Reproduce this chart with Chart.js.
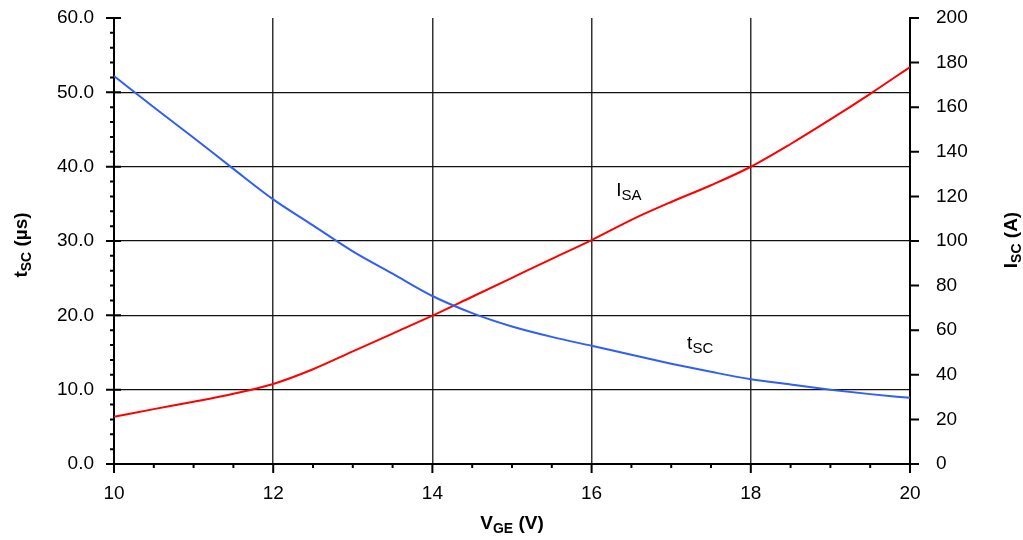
<!DOCTYPE html>
<html>
<head>
<meta charset="utf-8">
<script src="https://cdn.jsdelivr.net/npm/chart.js@4.4.0/dist/chart.umd.min.js"></script>
<style>
  html, body { margin: 0; padding: 0; background: #fff; }
  #wrap { width: 1023px; height: 540px; }
</style>
</head>
<body>
<div id="wrap"><canvas id="chart"></canvas></div>
<script>
// gate-emitter voltage (V)
const vge = [10, 10.5, 11, 11.5, 12, 12.5, 13, 13.5, 14, 14.5, 15, 15.5, 16, 16.5, 17, 17.5, 18, 18.5, 19, 19.5, 20];
// short circuit withstand time (us), left axis
const tsc = [52.2, 48.0, 43.9, 39.7, 35.6, 32.1, 28.6, 25.6, 22.6, 20.3, 18.5, 17.1, 15.9, 14.7, 13.5, 12.4, 11.4, 10.7, 10.0, 9.4, 8.9];
// short circuit current (A), right axis
const isa = [21.2, 24.6, 27.9, 31.5, 35.9, 42.5, 50.5, 58.5, 66.5, 75.0, 83.5, 92.0, 100.4, 109.5, 117.5, 125.0, 133.3, 143.5, 154.5, 166.0, 178.0];

const FONT = '"Liberation Sans", Arial, sans-serif';
const tickFont = { family: FONT, size: 19 };

// draws text made of [string, font, dy] pieces (for subscripts)
function drawParts(ctx, x, y, parts, center) {
  let w = 0;
  parts.forEach(p => { ctx.font = p[1]; w += ctx.measureText(p[0]).width; });
  let cx = center ? x - w / 2 : x;
  parts.forEach(p => {
    ctx.font = p[1];
    ctx.fillText(p[0], cx, y + p[2]);
    cx += ctx.measureText(p[0]).width;
  });
}

// keep the plot box fixed: no extra label padding at top/bottom of the y axes
function fixY(width) {
  return s => {
    s.width = width;
    s.paddingTop = 0;
    s.paddingBottom = 0;
  };
}

const decor = {
  id: 'decor',
  afterDraw(chart) {
    const { ctx, chartArea: a } = chart;
    const { x, y, y1 } = chart.scales;
    ctx.save();
    ctx.strokeStyle = '#000';
    ctx.lineWidth = 2;
    ctx.beginPath();
    // bottom ticks, minor every 0.5
    for (let i = 0; i <= 20; i++) {
      const px = x.getPixelForValue(10 + i * 0.5);
      ctx.moveTo(px, a.bottom);
      ctx.lineTo(px, a.bottom + (i % 4 === 0 ? 9 : 4));
    }
    // left ticks, minor every 2
    for (let i = 0; i <= 30; i++) {
      const py = y.getPixelForValue(i * 2);
      const major = i % 5 === 0;
      ctx.moveTo(a.left - (major ? 8 : 4), py);
      ctx.lineTo(a.left + (major ? 7 : 0), py);
    }
    // right ticks
    for (let i = 0; i <= 10; i++) {
      const py = y1.getPixelForValue(i * 20);
      ctx.moveTo(a.right, py);
      ctx.lineTo(a.right + 9, py);
    }
    ctx.stroke();

    ctx.fillStyle = '#000';
    ctx.textAlign = 'left';
    ctx.textBaseline = 'alphabetic';
    const B = 'bold 19px ' + FONT, Bs = 'bold 14px ' + FONT;
    const R = '19px ' + FONT, Rs = '15px ' + FONT;

    // x title
    drawParts(ctx, (a.left + a.right) / 2, 529, [['V', B, 0], ['GE', Bs, 4], [' (V)', B, 0]], true);

    // left title
    ctx.save();
    ctx.translate(27, 245);
    ctx.rotate(-Math.PI / 2);
    drawParts(ctx, 0, 0, [['t', B, 0], ['SC', Bs, 4], [' (µs)', B, 0]], true);
    ctx.restore();

    // right title
    ctx.save();
    ctx.translate(1017, 240);
    ctx.rotate(-Math.PI / 2);
    drawParts(ctx, 0, 0, [['I', B, 0], ['SC', Bs, 4], [' (A)', B, 0]], true);
    ctx.restore();

    // curve labels
    drawParts(ctx, x.getPixelForValue(17.2), y.getPixelForValue(15.45), [['t', R, 0], ['SC', Rs, 4]], false);
    drawParts(ctx, x.getPixelForValue(16.31), y1.getPixelForValue(120.2), [['I', R, 0], ['SA', Rs, 4]], false);
    ctx.restore();
  }
};

new Chart(document.getElementById('chart'), {
  type: 'line',
  data: {
    datasets: [
      {
        label: 'tSC',
        data: vge.map((v, i) => ({ x: v, y: tsc[i] })),
        yAxisID: 'y',
        borderColor: '#2f5ff5',
        borderWidth: 2,
        pointRadius: 0,
        cubicInterpolationMode: 'monotone'
      },
      {
        label: 'ISA',
        data: vge.map((v, i) => ({ x: v, y: isa[i] })),
        yAxisID: 'y1',
        borderColor: '#ff0000',
        borderWidth: 2,
        pointRadius: 0,
        cubicInterpolationMode: 'monotone'
      }
    ]
  },
  options: {
    responsive: true,
    maintainAspectRatio: false,
    animation: false,
    layout: { padding: { top: 18, left: 0, right: 0, bottom: 0 } },
    plugins: { legend: { display: false }, tooltip: { enabled: false } },
    scales: {
      x: {
        type: 'linear',
        min: 10, max: 20,
        ticks: { stepSize: 2, padding: 18, color: '#000', font: tickFont },
        grid: { color: '#333', lineWidth: 1.5, drawTicks: false },
        border: { color: '#000', width: 2 },
        afterFit: s => { s.height = 76; }
      },
      y: {
        position: 'left',
        min: 0, max: 60,
        ticks: { stepSize: 10, padding: 20, color: '#000', font: tickFont, callback: v => v.toFixed(1) },
        grid: { color: c => c.tick && c.tick.value === 60 ? 'rgba(0,0,0,0)' : '#111', lineWidth: 1.2, drawTicks: false },
        border: { color: '#000', width: 2 },
        afterFit: fixY(114)
      },
      y1: {
        position: 'right',
        min: 0, max: 200,
        ticks: { stepSize: 20, padding: 26, color: '#000', font: tickFont },
        grid: { drawOnChartArea: false, drawTicks: false },
        border: { color: '#000', width: 2 },
        afterFit: fixY(113)
      }
    }
  },
  plugins: [decor]
});
</script>
</body>
</html>
